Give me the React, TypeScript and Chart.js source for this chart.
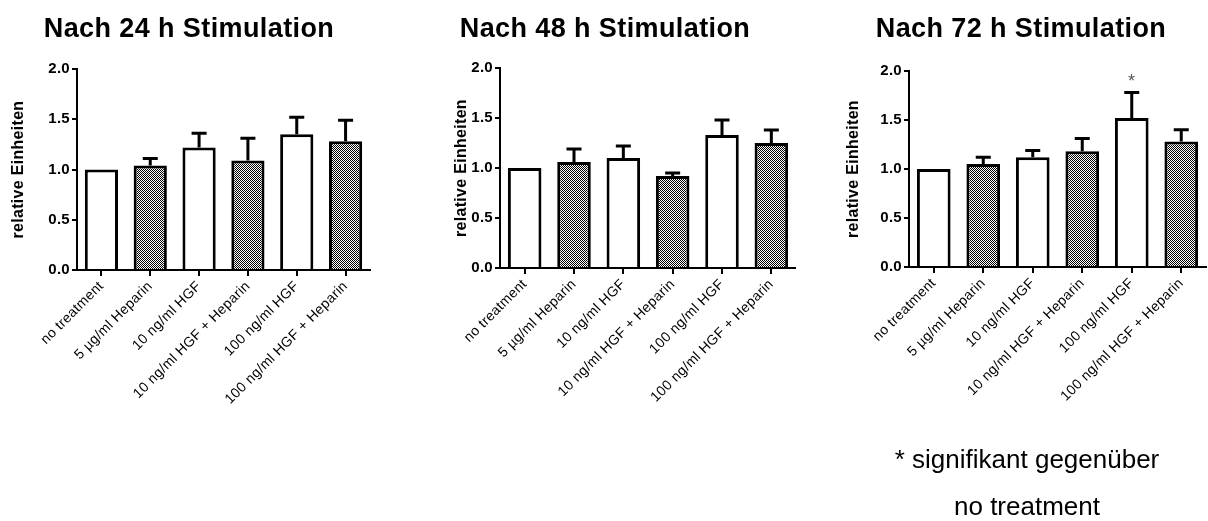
import { useEffect, useRef } from "react";
import { Chart, registerables } from "chart.js";

Chart.register(...registerables);

// Treatment groups on the x axis
const categories = [
  "no treatment",
  "5 µg/ml Heparin",
  "10 ng/ml HGF",
  "10 ng/ml HGF + Heparin",
  "100 ng/ml HGF",
  "100 ng/ml HGF + Heparin",
];
// Groups that received heparin are drawn with the checker fill
const heparinGroups = [false, true, false, true, false, true];

const yTickValues = [0, 0.5, 1.0, 1.5, 2.0];
const yAxisTitle = "relative Einheiten";

// 24 h stimulation: means and SEM (upper error)
const mean24 = [1.0, 1.04, 1.22, 1.09, 1.35, 1.28];
const sem24 = [0, 0.07, 0.14, 0.22, 0.17, 0.21];

// 48 h stimulation
const mean48 = [1.0, 1.06, 1.1, 0.92, 1.33, 1.25];
const sem48 = [0, 0.13, 0.12, 0.03, 0.15, 0.13];

// 72 h stimulation
const mean72 = [1.0, 1.05, 1.12, 1.18, 1.52, 1.28];
const sem72 = [0, 0.07, 0.07, 0.13, 0.26, 0.12];
const significant72 = [false, false, false, false, true, false];
const noSignificance = [false, false, false, false, false, false];

const panelTitles = ["Nach 24 h Stimulation", "Nach 48 h Stimulation", "Nach 72 h Stimulation"];
const footnoteLines = ["* signifikant gegenüber", "no treatment"];

const FONT = '"Liberation Sans", Arial, Helvetica, sans-serif';
const HEIGHT = 521;

type PanelLayout = {
  left: number;
  width: number;
  plotLeft: number;
  plotRight: number;
  plotTop: number;
  plotBottom: number;
  titleX: number;
  yTitlePad: number;
};

const layouts: PanelLayout[] = [
  { left: 0, width: 378, plotLeft: 77, plotRight: 370, plotTop: 69, plotBottom: 270, titleX: 189, yTitlePad: 9 },
  { left: 414, width: 382, plotLeft: 86, plotRight: 382, plotTop: 68, plotBottom: 268, titleX: 191, yTitlePad: 38 },
  { left: 834, width: 374, plotLeft: 75, plotRight: 372, plotTop: 71, plotBottom: 267, titleX: 187, yTitlePad: 10 },
];

function makeChecker(): CanvasPattern | string {
  const c = document.createElement("canvas");
  c.width = 2;
  c.height = 2;
  const g = c.getContext("2d");
  if (!g) return "#808080";
  g.fillStyle = "#ffffff";
  g.fillRect(0, 0, 2, 2);
  g.fillStyle = "#000000";
  g.fillRect(0, 0, 1, 1);
  g.fillRect(1, 1, 1, 1);
  return g.createPattern(c, "repeat") || "#808080";
}

type PanelProps = {
  title: string;
  means: number[];
  sems: number[];
  stars: boolean[];
  layout: PanelLayout;
};

function Panel({ title, means, sems, stars, layout }: PanelProps) {
  const ref = useRef<HTMLCanvasElement | null>(null);

  useEffect(() => {
    const canvas = ref.current;
    if (!canvas) return;
    const checker = makeChecker();
    const X_AXIS_HEIGHT = 150;

    const spacing = {
      id: "textSpacing",
      beforeUpdate(chart: any) {
        chart.ctx.letterSpacing = "0.3px";
      },
      beforeDraw(chart: any) {
        chart.ctx.letterSpacing = "0.3px";
      },
    };

    const decorations = {
      id: "decorations",
      afterDatasetsDraw(chart: any) {
        const ctx = chart.ctx as CanvasRenderingContext2D;
        const yScale = chart.scales.y;
        const meta = chart.getDatasetMeta(0);
        ctx.save();
        ctx.strokeStyle = "#000";
        ctx.lineWidth = 3;
        ctx.lineCap = "butt";
        meta.data.forEach((bar: any, i: number) => {
          const top = means[i] + sems[i];
          const yTop = yScale.getPixelForValue(top);
          if (sems[i] > 0) {
            const y0 = yScale.getPixelForValue(means[i]);
            ctx.beginPath();
            ctx.moveTo(bar.x, y0);
            ctx.lineTo(bar.x, yTop);
            ctx.moveTo(bar.x - 7.5, yTop);
            ctx.lineTo(bar.x + 7.5, yTop);
            ctx.stroke();
          }
          if (stars[i]) {
            ctx.fillStyle = "#555";
            ctx.font = `18px ${FONT}`;
            ctx.textAlign = "center";
            ctx.textBaseline = "alphabetic";
            ctx.fillText("*", bar.x, yTop - 5.5);
          }
        });
        ctx.restore();
      },
      afterDraw(chart: any) {
        const ctx = chart.ctx as CanvasRenderingContext2D;
        ctx.save();
        (ctx as any).letterSpacing = "0.4px";
        ctx.font = `bold 27px ${FONT}`;
        ctx.fillStyle = "#000";
        ctx.textAlign = "center";
        ctx.textBaseline = "alphabetic";
        ctx.fillText(title, layout.titleX, 37);
        ctx.restore();
      },
    };

    const chart = new Chart(canvas, {
      type: "bar",
      data: {
        labels: categories,
        datasets: [
          {
            data: means,
            backgroundColor: heparinGroups.map((h) => (h ? checker : "#ffffff")) as any,
            borderColor: "#000",
            borderWidth: 3,
            borderSkipped: "start",
            barPercentage: 0.68,
            categoryPercentage: 1,
          },
        ],
      },
      options: {
        responsive: false,
        animation: false,
        devicePixelRatio: 1,
        layout: {
          padding: {
            top: layout.plotTop,
            left: 0,
            right: layout.width - layout.plotRight,
            bottom: HEIGHT - layout.plotBottom - X_AXIS_HEIGHT,
          },
        },
        plugins: {
          legend: { display: false },
          tooltip: { enabled: false },
          title: { display: false },
        },
        scales: {
          x: {
            type: "category",
            offset: true,
            grid: {
              display: true,
              drawOnChartArea: false,
              drawTicks: true,
              tickLength: 6,
              color: "#000",
              lineWidth: 2,
              offset: false,
            },
            border: { display: true, color: "#000", width: 2 },
            ticks: {
              color: "#000",
              font: { family: FONT, size: 14 },
              minRotation: 45,
              maxRotation: 45,
              autoSkip: false,
              padding: 2,
            },
            afterFit: (s: any) => {
              s.height = X_AXIS_HEIGHT;
            },
          },
          y: {
            min: 0,
            max: 2,
            afterBuildTicks: (s: any) => {
              s.ticks = yTickValues.map((v) => ({ value: v }));
            },
            grid: {
              display: true,
              drawOnChartArea: false,
              drawTicks: true,
              tickLength: 5,
              color: "#000",
              lineWidth: 2,
            },
            border: { display: true, color: "#000", width: 2 },
            ticks: {
              color: "#000",
              font: { family: FONT, size: 15, weight: "bold" },
              padding: 2,
              callback: (v: any) => Number(v).toFixed(1),
            },
            title: {
              display: true,
              text: yAxisTitle,
              color: "#000",
              font: { family: FONT, size: 16, weight: "bold" },
              padding: { top: layout.yTitlePad, bottom: 0 },
            },
            afterFit: (s: any) => {
              s.width = layout.plotLeft;
            },
          },
        },
      } as any,
      plugins: [spacing, decorations],
    });

    return () => chart.destroy();
  }, [title, means, sems, stars, layout]);

  return (
    <canvas
      ref={ref}
      width={layout.width}
      height={HEIGHT}
      style={{ position: "absolute", left: layout.left, top: 0, width: layout.width, height: HEIGHT }}
    />
  );
}

export default function App() {
  return (
    <div
      style={{
        position: "fixed",
        left: 0,
        top: 0,
        width: 1208,
        height: HEIGHT,
        background: "#fff",
        overflow: "hidden",
      }}
    >
      <Panel title={panelTitles[0]} means={mean24} sems={sem24} stars={noSignificance} layout={layouts[0]} />
      <Panel title={panelTitles[1]} means={mean48} sems={sem48} stars={noSignificance} layout={layouts[1]} />
      <Panel title={panelTitles[2]} means={mean72} sems={sem72} stars={significant72} layout={layouts[2]} />
      <div
        style={{
          position: "absolute",
          left: 827,
          top: 436,
          width: 400,
          textAlign: "center",
          fontFamily: FONT,
          fontSize: 26,
          lineHeight: "47px",
          color: "#000",
        }}
      >
        {footnoteLines.map((line) => (
          <div key={line}>{line}</div>
        ))}
      </div>
    </div>
  );
}
